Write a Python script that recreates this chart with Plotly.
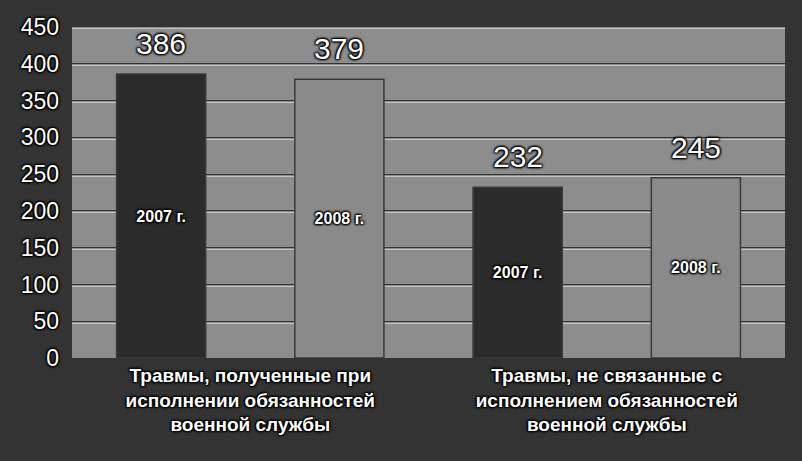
import plotly.graph_objects as go

categories = [
    "Травмы, полученные при<br>исполнении обязанностей<br>военной службы",
    "Травмы, не связанные с<br>исполнением обязанностей<br>военной службы",
]
series_names = ["2007 г.", "2008 г."]
values_2007 = [386, 232]
values_2008 = [379, 245]
y_ticks = [0, 50, 100, 150, 200, 250, 300, 350, 400, 450]

BG = "#333333"
PLOT_BG = "#8d8d8d"
SHADOW = "1px 1px 2px #000, -1px -1px 2px #000, 1px -1px 2px #000, -1px 1px 2px #000"
FONT = "Liberation Sans, Arial, sans-serif"

fig = go.Figure()
series = [(series_names[0], values_2007, "#2b2b2b", -0.375),
          (series_names[1], values_2008, "#8a8a8a", 0.125)]
for name, vals, color, off in series:
    fig.add_trace(go.Bar(
        x=categories, y=vals, name=name,
        marker=dict(color=color, line=dict(color="#3a3a3a", width=1.5)),
        width=0.25, offset=off,
        text=[name] * len(vals), textposition="inside",
        insidetextanchor="middle", textangle=0,
        textfont=dict(family=FONT, size=16, color="white", weight="bold", shadow=SHADOW),
        cliponaxis=False,
    ))

# value labels above bars
for (name, vals, color, off) in series:
    for i, v in enumerate(vals):
        fig.add_annotation(
            x=i + off + 0.125, y=v, xref="x", yref="y",
            text=str(v), showarrow=False, yanchor="bottom", yshift=12,
            font=dict(family=FONT, size=30, color="white", shadow=SHADOW),
        )

# light highlight grid lines just below dark ones (embossed look)
fig.add_trace(go.Scatter(x=[categories[0]], y=[0], yaxis="y2", showlegend=False,
                         mode="markers", marker=dict(opacity=0), hoverinfo="skip"))

fig.update_layout(
    width=802, height=461,
    paper_bgcolor=BG, plot_bgcolor=PLOT_BG,
    margin=dict(l=72, r=17, t=27, b=103),
    showlegend=False,
    barmode="group",
    xaxis=dict(
        type="category", showgrid=False, zeroline=False,
        tickfont=dict(family=FONT, size=19, color="white", weight="bold", shadow=SHADOW),
        ticks="", showline=False, ticklabelstandoff=4,
    ),
    yaxis=dict(
        range=[0, 450], tickvals=y_ticks,
        showgrid=True, gridcolor="#333333", gridwidth=1.2,
        zeroline=False, ticks="", showline=False,
        tickfont=dict(family=FONT, size=23, color="white", shadow=SHADOW),
        ticklabelstandoff=12,
    ),
    yaxis2=dict(
        overlaying="y", range=[2.6, 452.6], tickvals=y_ticks,
        showgrid=True, gridcolor="#c4c4c4", gridwidth=1,
        showticklabels=False, zeroline=False, ticks="",
    ),
)

fig.write_html("out.html", config={"displayModeBar": False},
               post_script="document.body.style.margin='0';")
